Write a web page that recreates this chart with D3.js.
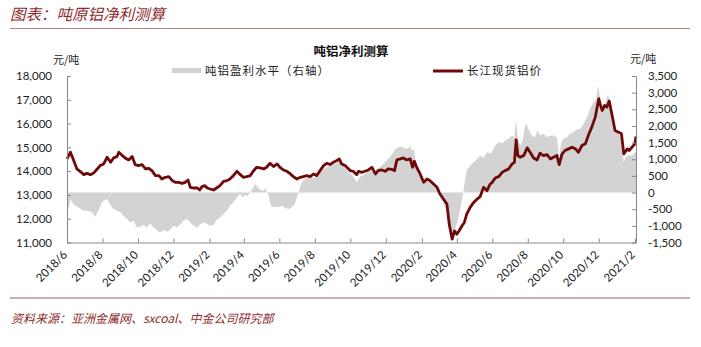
<!DOCTYPE html>
<html><head><meta charset="utf-8">
<script src="https://cdn.jsdelivr.net/npm/d3@7"></script>
<style>
html,body{margin:0;padding:0;background:#fff;}
svg{display:block;}
</style></head><body>
<svg id="chart" width="701" height="347"></svg>
<script>
// ---------- DATA ----------
const xTickLabels = ["2018/6","2018/8","2018/10","2018/12","2019/2","2019/4","2019/6","2019/8","2019/10","2019/12","2020/2","2020/4","2020/6","2020/8","2020/10","2020/12","2021/2"];
const leftTicks = [11000,12000,13000,14000,15000,16000,17000,18000];
const rightTicks = [-1500,-1000,-500,0,500,1000,1500,2000,2500,3000,3500];

// 长江现货铝价 (left axis, 元/吨)
const priceDates = [
"2018-06-01","2018-06-07","2018-06-13","2018-06-18","2018-06-24","2018-06-30",
"2018-07-05","2018-07-11","2018-07-17","2018-07-23","2018-07-28",
"2018-08-03","2018-08-09","2018-08-15","2018-08-20","2018-08-26","2018-08-29",
"2018-09-04","2018-09-09","2018-09-15","2018-09-21","2018-09-26",
"2018-10-02","2018-10-08","2018-10-14","2018-10-19","2018-10-25","2018-10-31",
"2018-11-06","2018-11-11","2018-11-17","2018-11-23","2018-11-29",
"2018-12-04","2018-12-10","2018-12-16","2018-12-21","2018-12-26","2018-12-30",
"2019-01-05","2019-01-11","2019-01-15","2019-01-19","2019-01-24","2019-01-28",
"2019-02-02","2019-02-08","2019-02-13","2019-02-19","2019-02-25",
"2019-03-03","2019-03-08","2019-03-14","2019-03-20","2019-03-26","2019-03-31",
"2019-04-06","2019-04-12","2019-04-17","2019-04-23","2019-04-29",
"2019-05-05","2019-05-10","2019-05-16","2019-05-22","2019-05-28",
"2019-06-02","2019-06-08","2019-06-14","2019-06-20","2019-06-25",
"2019-07-01","2019-07-07","2019-07-12","2019-07-18","2019-07-24","2019-07-30",
"2019-08-04","2019-08-10","2019-08-16","2019-08-22","2019-08-27",
"2019-09-02","2019-09-08","2019-09-12","2019-09-16","2019-09-22","2019-09-25",
"2019-10-01","2019-10-06","2019-10-12","2019-10-15","2019-10-21","2019-10-26",
"2019-11-01","2019-11-07","2019-11-13","2019-11-18","2019-11-24","2019-11-30",
"2019-12-05","2019-12-11","2019-12-16","2019-12-20","2019-12-26","2019-12-31",
"2020-01-06","2020-01-12","2020-01-16","2020-01-19","2020-01-23","2020-01-29",
"2020-02-04","2020-02-10","2020-02-15","2020-02-21","2020-02-27",
"2020-03-03","2020-03-09","2020-03-15","2020-03-19","2020-03-24","2020-03-28",
"2020-04-01","2020-04-05","2020-04-10","2020-04-14","2020-04-18","2020-04-24","2020-04-30",
"2020-05-06","2020-05-11","2020-05-17","2020-05-23","2020-05-28",
"2020-06-01","2020-06-06","2020-06-12","2020-06-18","2020-06-23","2020-06-29",
"2020-07-05","2020-07-09","2020-07-12","2020-07-15","2020-07-19","2020-07-25","2020-07-31",
"2020-08-05","2020-08-11","2020-08-17","2020-08-22","2020-08-28",
"2020-09-03","2020-09-09","2020-09-14","2020-09-20","2020-09-24","2020-09-29",
"2020-10-04","2020-10-10","2020-10-16","2020-10-22","2020-10-27",
"2020-11-02","2020-11-08","2020-11-13","2020-11-19","2020-11-25",
"2020-12-01","2020-12-04","2020-12-07","2020-12-11","2020-12-15","2020-12-19","2020-12-24","2020-12-29",
"2021-01-04","2021-01-09","2021-01-13","2021-01-19","2021-01-22","2021-01-27",
"2021-02-01","2021-02-03"];
const priceValues = [
14514,14795,14416,14092,13980,13853,
13910,13853,13924,14092,14233,
14303,14584,14373,14556,14612,14795,
14655,14556,14472,14612,14275,
14233,14275,14092,14120,14022,13811,
13811,13671,13741,13769,13600,
13530,13530,13488,13530,13628,13319,
13291,13291,13207,13347,13390,13291,
13249,13207,13291,13390,13572,
13600,13671,13811,13994,13853,13741,
13769,13811,13994,14163,14135,
14092,14163,14331,14191,14303,
14163,14050,13994,13881,13769,
13671,13741,13769,13811,13769,13881,
13811,14022,14233,14331,14275,
14373,14443,14514,14303,14233,14163,
14022,13994,13853,13994,13952,13994,
14050,14163,13881,14022,14050,13994,
14092,14078,14022,14472,14514,14556,
14472,14514,14163,14416,14163,13881,
13530,13671,13600,13460,13319,
13038,12827,12616,11772,11140,11491,
11351,11491,11702,11843,12194,12475,12686,
12827,12925,13319,13179,13450,
13530,13713,13769,13952,14022,14092,
14303,14373,15316,14655,14584,14655,14978,
14795,14556,14472,14753,14655,
14697,14514,14584,14655,14275,14725,
14866,14936,15006,14936,14795,
15077,15147,15498,15850,16272,
17045,16764,16553,16764,16693,16947,16342,15709,
15639,15569,14725,14936,14866,15006,
15147,15456];

// 吨铝盈利水平 (right axis, 元/吨)
const profitDates = [
"2018-06-01","2018-06-04","2018-06-07","2018-06-10","2018-06-15","2018-06-21","2018-06-27",
"2018-07-02","2018-07-08","2018-07-14","2018-07-20","2018-07-25","2018-07-31",
"2018-08-03","2018-08-09","2018-08-15","2018-08-20","2018-08-26",
"2018-09-01","2018-09-06","2018-09-12","2018-09-18","2018-09-23","2018-09-29",
"2018-10-05","2018-10-11","2018-10-16","2018-10-22","2018-10-28",
"2018-11-02","2018-11-08","2018-11-14","2018-11-20","2018-11-25",
"2018-12-01","2018-12-07","2018-12-12","2018-12-18","2018-12-24","2018-12-30",
"2019-01-05","2019-01-11","2019-01-16","2019-01-22","2019-01-27",
"2019-02-02","2019-02-08","2019-02-13","2019-02-19","2019-02-25",
"2019-03-03","2019-03-08","2019-03-14","2019-03-20","2019-03-26","2019-03-29",
"2019-04-04","2019-04-06","2019-04-12","2019-04-17","2019-04-21","2019-04-25","2019-04-29",
"2019-05-05","2019-05-08","2019-05-10","2019-05-13","2019-05-16","2019-05-19","2019-05-25","2019-05-31",
"2019-06-06","2019-06-11","2019-06-17","2019-06-23","2019-06-28",
"2019-07-01","2019-07-04","2019-07-07","2019-07-12","2019-07-18","2019-07-24","2019-07-30",
"2019-08-04","2019-08-10","2019-08-16","2019-08-22","2019-08-27",
"2019-09-02","2019-09-08","2019-09-13","2019-09-19","2019-09-25",
"2019-10-01","2019-10-06","2019-10-12","2019-10-18","2019-10-23","2019-10-29",
"2019-11-04","2019-11-10","2019-11-15","2019-11-21","2019-11-27",
"2019-12-02","2019-12-08","2019-12-14","2019-12-20","2019-12-26","2019-12-31",
"2020-01-06","2020-01-12","2020-01-15","2020-01-18","2020-01-21","2020-01-26",
"2020-02-01","2020-02-07","2020-02-12","2020-02-18","2020-02-24","2020-02-29",
"2020-03-06","2020-03-11","2020-03-15","2020-03-20","2020-03-25","2020-03-29",
"2020-04-02","2020-04-05","2020-04-09","2020-04-12","2020-04-15","2020-04-18","2020-04-24","2020-04-30",
"2020-05-06","2020-05-11","2020-05-17","2020-05-23","2020-05-28","2020-05-31",
"2020-06-06","2020-06-12","2020-06-18","2020-06-23","2020-06-29",
"2020-07-05","2020-07-09","2020-07-12","2020-07-15","2020-07-19","2020-07-23","2020-07-27","2020-07-30",
"2020-08-03","2020-08-08","2020-08-13","2020-08-18","2020-08-22","2020-08-28",
"2020-09-03","2020-09-09","2020-09-14","2020-09-20","2020-09-24","2020-09-27",
"2020-10-01","2020-10-07","2020-10-13","2020-10-19","2020-10-24","2020-10-30",
"2020-11-05","2020-11-11","2020-11-16","2020-11-22","2020-11-26","2020-11-30",
"2020-12-04","2020-12-08","2020-12-12","2020-12-17","2020-12-21","2020-12-26",
"2021-01-01","2021-01-07","2021-01-13","2021-01-16","2021-01-21","2021-01-27",
"2021-02-02","2021-02-03"];
const profitValues = [
-500,-450,-200,-294,-394,-444,-525,
-545,-545,-595,-726,-545,-294,
-243,-193,-394,-495,-545,
-595,-695,-796,-896,-846,-1047,
-1027,-967,-1047,-926,-1047,
-1127,-1197,-1127,-1167,-1127,
-997,-1047,-967,-846,-796,-896,
-997,-1047,-946,-896,-926,
-997,-967,-826,-746,-645,
-545,-394,-294,-143,-43,-143,
-63,-123,0,158,258,158,78,
57,138,37,-63,-294,-444,-424,-444,
-394,-465,-495,-444,-324,
-143,0,200,359,439,459,439,
479,610,710,760,810,
840,881,961,810,660,
559,479,308,479,509,610,
660,610,710,760,861,
961,1062,1212,1343,1383,1343,
1313,1383,1262,1313,961,710,
479,359,409,308,158,0,
-193,-394,-545,-997,-1348,-1097,
-896,-645,-294,0,359,660,810,911,
1012,1112,1042,1212,1162,1212,
1413,1513,1483,1563,1614,
1714,1664,2166,1614,1413,1563,1965,2065,
1865,1714,1664,1865,1714,1764,
1664,1714,1714,1664,1042,1463,
1614,1664,1764,1815,1885,1915,
2065,2266,2517,2718,2768,3220,
2718,2567,2668,2969,2517,1965,
1815,1714,911,1042,1112,1112,
1212,1250];

// ---------- CHART ----------
const parseDay = d3.timeParse("%Y-%m-%d");
const parseTick = d3.timeParse("%Y/%m");
const price = priceDates.map((d,i)=>({date:parseDay(d), v:priceValues[i]}));
const profit = profitDates.map((d,i)=>({date:parseDay(d), v:profitValues[i]}));

const svg = d3.select("#chart");
const plotL = 67, plotR = 636, plotT = 76, plotB = 242.5;
const x = d3.scaleTime().domain([parseDay("2018-06-01"), parseDay("2021-02-03")]).range([plotL, plotR]);
const yL = d3.scaleLinear().domain([11000,18000]).range([plotB, plotT]);
const yR = d3.scaleLinear().domain([-1500,3500]).range([plotB, plotT]);

const fontCJK = "'Noto Sans CJK SC','Noto Sans',sans-serif";
const fontNum = "Lato,'Liberation Sans',sans-serif";
const maroon = "#8e2b2b";

// Header
svg.append("text").attr("x",10).attr("y",20).text("图表：吨原铝净利测算")
  .attr("font-family",fontCJK).attr("font-size","15.5px").attr("font-style","italic").attr("fill",maroon);
svg.append("line").attr("x1",10).attr("x2",690).attr("y1",28.5).attr("y2",28.5)
  .attr("stroke","#b07c7c").attr("stroke-width",1.2);

// Chart title
svg.append("text").attr("x",351).attr("y",56).attr("text-anchor","middle").text("吨铝净利测算")
  .attr("font-family",fontCJK).attr("font-size","12.5px").attr("font-weight","bold").attr("fill","#111");

// Legend
svg.append("rect").attr("x",172).attr("y",68).attr("width",29).attr("height",5).attr("fill","#d3d3d3");
svg.append("text").attr("x",205).attr("y",74.5).text("吨铝盈利水平（右轴）")
  .attr("font-family",fontCJK).attr("font-size","11.5px").attr("letter-spacing","1px").attr("fill","#222");
svg.append("line").attr("x1",433).attr("x2",463).attr("y1",71).attr("y2",71)
  .attr("stroke","#6e0a0a").attr("stroke-width",3);
svg.append("text").attr("x",467).attr("y",74.5).text("长江现货铝价")
  .attr("font-family",fontCJK).attr("font-size","11.5px").attr("letter-spacing","1px").attr("fill","#222");

// Units
svg.append("text").attr("x",53).attr("y",64).text("元/吨")
  .attr("font-family",fontCJK).attr("font-size","11px").attr("fill","#222");
svg.append("text").attr("x",630).attr("y",63).text("元/吨")
  .attr("font-family",fontCJK).attr("font-size","11px").attr("fill","#222");

// Area (right axis)
const area = d3.area().x(d=>x(d.date)).y0(yR(0)).y1(d=>yR(d.v));
svg.append("path").datum(profit).attr("d",area).attr("fill","#d3d3d3");

// Line (left axis)
const line = d3.line().x(d=>x(d.date)).y(d=>yL(d.v));
svg.append("path").datum(price).attr("d",line).attr("fill","none")
  .attr("stroke","#6e0a0a").attr("stroke-width",2.8).attr("stroke-linejoin","round");

// Axes
const fmt = d => d3.format(",")(d).replace("\u2212","-");
const axisColor = "#888";
function styleAxis(g){
  g.selectAll(".domain").attr("stroke",axisColor);
  g.selectAll(".tick line").attr("stroke",axisColor);
  g.selectAll(".tick text").attr("font-family",fontNum).attr("font-size","11.5px").attr("fill","#222");
}
const gL = svg.append("g").attr("transform",`translate(${plotL},0)`)
  .call(d3.axisLeft(yL).tickValues(leftTicks).tickFormat(fmt).tickSize(-4).tickSizeOuter(0).tickPadding(15));
styleAxis(gL);
const gR = svg.append("g").attr("transform",`translate(${plotR},0)`)
  .call(d3.axisRight(yR).tickValues(rightTicks).tickFormat(fmt).tickSize(-4).tickSizeOuter(0).tickPadding(12));
styleAxis(gR);
const xTicks = xTickLabels.map(s=>parseTick(s));
const gX = svg.append("g").attr("transform",`translate(0,${plotB})`)
  .call(d3.axisBottom(x).tickValues(xTicks).tickFormat("").tickSize(-4).tickSizeOuter(0));
styleAxis(gX);
svg.append("g").selectAll("text").data(xTicks).join("text")
  .attr("transform",(d,i)=>`translate(${x(d)+1},${plotB+13}) rotate(-45)`)
  .attr("text-anchor","end")
  .attr("font-family",fontNum).attr("font-size","11.5px").attr("fill","#222")
  .text((d,i)=>xTickLabels[i]);

// Footer
svg.append("line").attr("x1",10).attr("x2",690).attr("y1",298).attr("y2",298)
  .attr("stroke","#c9b1b1").attr("stroke-width",2);
svg.append("text").attr("x",11).attr("y",323).text("资料来源：亚洲金属网、sxcoal、中金公司研究部")
  .attr("font-family",fontCJK).attr("font-size","12px").attr("font-style","italic").attr("fill",maroon);
</script></body></html>
